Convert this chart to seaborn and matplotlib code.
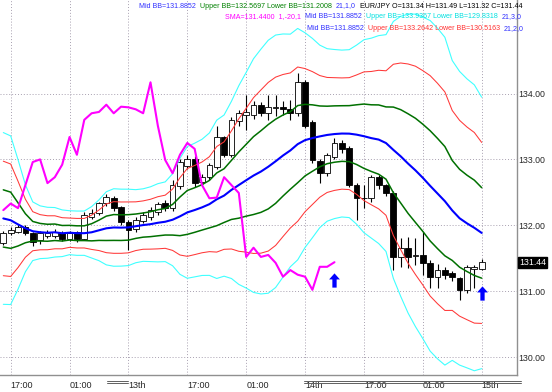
import matplotlib
matplotlib.use("Agg")
import matplotlib.pyplot as plt
from matplotlib.path import Path
from matplotlib.lines import Line2D
import matplotlib.transforms as mtransforms
import seaborn as sns
import pandas as pd
import numpy as np

# EUR/JPY hourly candles, 12th 16:00 -> 15th 09:00
opens = [131.73, 131.88, 131.90, 131.97, 131.88, 131.77, 131.84, 131.84, 131.88, 131.79,
         131.90, 131.79, 132.13, 132.19, 132.34, 132.41, 132.28, 132.05, 131.95, 132.06,
         132.12, 132.20, 132.34, 132.26, 132.60, 132.90, 133.00, 132.65, 132.73, 132.88,
         133.34, 133.07, 133.58, 133.68, 133.67, 133.83, 133.70, 133.78, 133.80, 133.76,
         133.70, 134.17, 133.57, 132.98, 132.79, 133.04, 133.25, 133.17, 132.61, 132.41,
         132.41, 132.73, 132.61, 132.49, 131.52, 131.66, 131.53, 131.55, 131.43, 131.22,
         131.32, 131.28, 131.20, 131.02, 131.34, 131.34]
highs = [131.92, 131.97, 132.02, 132.00, 131.90, 131.92, 131.93, 131.95, 131.91, 131.91,
         131.92, 132.20, 132.25, 132.36, 132.47, 132.45, 132.30, 132.08, 132.12, 132.20,
         132.27, 132.36, 132.38, 132.68, 133.00, 133.07, 133.05, 132.78, 132.95, 133.50,
         133.36, 133.65, 133.75, 133.98, 133.88, 133.87, 133.98, 133.98, 133.88, 133.90,
         134.31, 134.20, 133.60, 133.00, 133.10, 133.32, 133.30, 133.20, 132.64, 132.61,
         132.76, 132.76, 132.63, 132.52, 131.81, 131.82, 131.80, 131.90, 131.48, 131.42,
         131.36, 131.30, 131.22, 131.40, 131.40, 131.49]
lows = [131.70, 131.85, 131.88, 131.85, 131.68, 131.72, 131.80, 131.80, 131.76, 131.76,
        131.74, 131.77, 132.10, 132.15, 132.30, 132.22, 132.00, 131.62, 131.90, 132.03,
        132.08, 132.16, 132.22, 132.22, 132.55, 132.85, 132.58, 132.60, 132.68, 132.85,
        133.03, 133.03, 133.50, 133.45, 133.62, 133.66, 133.60, 133.66, 133.67, 133.60,
        133.66, 133.48, 132.95, 132.64, 132.75, 133.00, 133.10, 132.58, 132.08, 132.26,
        132.35, 132.55, 132.45, 131.32, 131.37, 131.35, 131.40, 131.25, 131.05, 131.05,
        131.18, 131.15, 130.87, 130.98, 131.05, 131.32]
closes = [131.88, 131.93, 131.97, 131.88, 131.75, 131.88, 131.88, 131.90, 131.79, 131.88,
          131.79, 132.15, 132.19, 132.34, 132.43, 132.26, 132.05, 131.93, 132.08, 132.16,
          132.23, 132.33, 132.26, 132.61, 132.96, 133.00, 132.64, 132.73, 132.92, 133.34,
          133.07, 133.60, 133.70, 133.72, 133.83, 133.70, 133.80, 133.79, 133.76, 133.70,
          134.17, 133.51, 132.99, 132.79, 133.07, 133.25, 133.16, 132.61, 132.41, 132.42,
          132.73, 132.61, 132.49, 131.52, 131.66, 131.52, 131.55, 131.43, 131.22, 131.32,
          131.25, 131.22, 131.02, 131.37, 131.37, 131.44]
# closes before the visible window, only used to warm up the 21-bar bands
warmup_closes = [132.50, 133.30, 133.10, 132.70, 132.20, 132.05, 131.75, 132.10, 131.70, 131.95,
                 132.15, 131.90, 131.70, 131.80, 132.00, 132.10, 131.85, 131.70, 131.80, 131.95]

tick_pos = [1, 9, 17, 25, 33, 41, 49, 57, 65]
tick_labels = ["17:00", "01:00", "13th", "17:00", "01:00", "14th", "17:00", "01:00", "15th"]
price_ticks = [130, 131, 132, 133, 134]
arrow_idx = [45, 65]
arrow_price = [131.17, 130.97]
last_price = 131.44

bb_period = 21
chikou_shift = 20

# ---- indicators
all_close = pd.Series(warmup_closes + closes)
mid = all_close.rolling(bb_period).mean().iloc[len(warmup_closes):].to_numpy()
sd = all_close.rolling(bb_period).std(ddof=0).iloc[len(warmup_closes):].to_numpy()
idx = np.arange(len(closes))
df = pd.DataFrame({"i": idx, "o": opens, "h": highs, "l": lows, "c": closes, "mid": mid, "sd": sd})
df["chikou"] = df["c"].shift(-chikou_shift)

sns.set_style("white")
plt.rcParams["font.family"] = ["Liberation Sans", "DejaVu Sans"]

fig = plt.figure(figsize=(5.52, 3.92), dpi=100)
ax = fig.add_axes([0, 17 / 392, 517 / 552, 375 / 392])

# candles
ax.vlines(df["i"], df["l"], df["h"], color="black", linewidth=0.8, zorder=2)
up = df["c"] >= df["o"]
body_lo = np.minimum(df["o"], df["c"])
body_h = np.maximum(np.abs(df["c"] - df["o"]), 0.008)
ax.bar(df["i"][up], body_h[up], bottom=body_lo[up], width=0.78, color="white",
       edgecolor="black", linewidth=0.6, zorder=3)
ax.bar(df["i"][~up], body_h[~up], bottom=body_lo[~up], width=0.78, color="black",
       edgecolor="black", linewidth=0.6, zorder=3)

# bands
bands = [(3, "#40ffff", 0.8), (2, "#ff3838", 0.75), (1, "#007000", 1.1)]
for k, col, lw in bands:
    sns.lineplot(x=df["i"], y=df["mid"] + k * df["sd"], ax=ax, color=col, linewidth=lw, zorder=4)
    sns.lineplot(x=df["i"], y=df["mid"] - k * df["sd"], ax=ax, color=col, linewidth=lw, zorder=4)
sns.lineplot(x=df["i"], y=df["mid"], ax=ax, color="#0000ff", linewidth=1.5, zorder=5)
ch = df.dropna(subset=["chikou"])
sns.lineplot(x=ch["i"], y=ch["chikou"], ax=ax, color="#ff00ff", linewidth=1.5, zorder=5)

# signal arrows
arrow = Path([(-0.76, 0.15), (0, 1), (0.76, 0.15), (0.3, 0.15), (0.3, -1), (-0.3, -1),
              (-0.3, 0.15), (-0.76, 0.15)],
             [Path.MOVETO] + [Path.LINETO] * 6 + [Path.CLOSEPOLY])
ax.scatter(arrow_idx, arrow_price, marker=arrow, s=105, color="#0000ff", zorder=6, linewidths=0)

# axes
ax.set_xlim(-0.45, 69.8)
ax.set_ylim(129.728, 135.419)
ax.set_xlabel("")
ax.set_ylabel("")
ax.set_xticks(tick_pos)
ax.set_xticklabels(tick_labels, ha="left", fontsize=6.5)
ax.set_yticks(price_ticks)
ax.set_yticklabels([f"{p:.2f}" for p in price_ticks], fontsize=6.3)
ax.yaxis.tick_right()
ax.tick_params(axis="x", length=0, pad=4)
ax.tick_params(axis="y", length=0, pad=1.2)
ax.grid(True, linestyle=(0, (1, 2)), color="#a8a0b0", linewidth=0.7)
for s in ["top", "left"]:
    ax.spines[s].set_visible(False)
for s in ["right", "bottom"]:
    ax.spines[s].set_color("#909090")
    ax.spines[s].set_linewidth(1.0)

# last price tag
tr = mtransforms.blended_transform_factory(ax.transAxes, ax.transData)
ax.text(1.004, last_price, f"{last_price:.2f}", transform=tr, color="white", fontsize=6.3,
        va="center", ha="left", bbox=dict(boxstyle="square,pad=0.1", fc="black", ec="black"))

# period separators under the time axis
for x0, x1 in [(107, 128), (304, 521)]:
    for yy in (380.5, 382.5):
        fig.add_artist(Line2D([x0 / 552, x1 / 552], [1 - yy / 392, 1 - yy / 392],
                              color="#606060", linewidth=0.7))

# indicator header, segments laid out one after another
header = [
    (6, 139, [("Mid BB=131.8852", "#3030ff"), ("Upper BB=132.5697 Lower BB=131.2008", "#008000"),
              ("21,1,0", "#3030ff"), ("EUR/JPY O=131.34 H=131.49 L=131.32 C=131.44", "black")]),
    (17, 225, [("SMA=131.4400  1,-20,1", "#ff00ff"), ("Mid BB=131.8852", "#3030ff"),
               ("Upper BB=133.9367 Lower BB=129.8318", "#00e0e0"), ("21,3,0", "#3030ff")]),
    (29, 307, [("Mid BB=131.8852", "#3030ff"), ("Upper BB=133.2642 Lower BB=130.5163", "#ff3030"),
               ("21,2,0", "#3030ff")]),
]
renderer = fig.canvas.get_renderer()
for ypx, xstart, parts in header:
    xpx = xstart
    for txt, col in parts:
        t = fig.text(xpx / 552, 1 - ypx / 392, txt, color=col, fontsize=5.1, va="center", ha="left")
        xpx = t.get_window_extent(renderer).x1 + 4

plt.savefig("out.png", dpi=100)
